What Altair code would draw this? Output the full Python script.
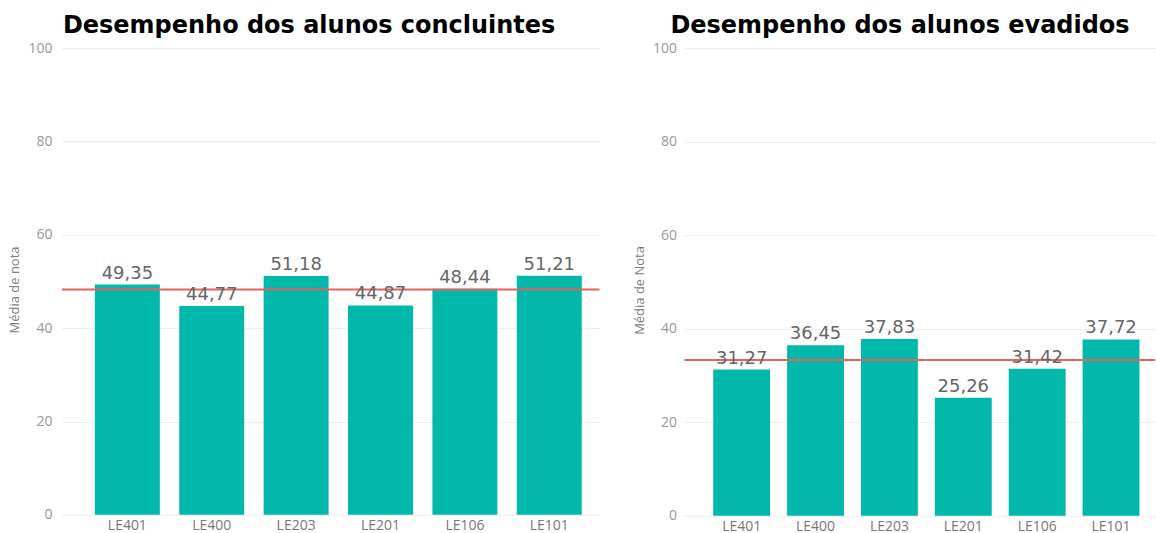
import altair as alt
import pandas as pd

# Course codes and mean grades per group
codes = ["LE401", "LE400", "LE203", "LE201", "LE106", "LE101"]
concluintes = [49.35, 44.77, 51.18, 44.87, 48.44, 51.21]
evadidos = [31.27, 36.45, 37.83, 25.26, 31.42, 37.72]
y_ticks = [0, 20, 40, 60, 80, 100]

TEAL = "#01B8AA"
RED = "#E8625C"


def panel(values, title, ytitle, width, height, label_pad, title_dx):
    df = pd.DataFrame({
        "disciplina": codes,
        "media": values,
        "rotulo": [f"{v:.2f}".replace(".", ",") for v in values],
    })
    x = alt.X(
        "disciplina:N",
        sort=codes,
        scale=alt.Scale(paddingInner=0.23, paddingOuter=0.3, align=0.65),
        axis=alt.Axis(
            title=None, labelAngle=0, ticks=False, domain=False,
            labelColor="#777777", labelFontSize=14, labelFont="Open Sans",
            labelPadding=4,
        ),
    )
    y = alt.Y(
        "media:Q",
        scale=alt.Scale(domain=[0, 100]),
        axis=alt.Axis(
            values=y_ticks, title=ytitle, grid=True, gridColor="#ECECEC",
            domain=False, ticks=False, labelColor="#999999",
            labelFontSize=14, labelFont="Open Sans", labelPadding=label_pad,
            titleFont="Open Sans", titleFontSize=13, titleFontWeight="normal",
            titleColor="#808080", titlePadding=6, titleY=height / 2 + 8,
        ),
    )
    base = alt.Chart(df)
    bars = base.mark_bar(color=TEAL).encode(x=x, y=y)
    media_geral = base.mark_rule(color=RED, strokeWidth=2).encode(
        y=alt.Y("mean(media):Q", scale=alt.Scale(domain=[0, 100]))
    )
    rotulos = base.mark_text(
        baseline="alphabetic", dy=-6, fontSize=18, font="DejaVu Sans",
        color="#666666",
    ).encode(x=x, y=y, text="rotulo:N")
    return alt.layer(bars, media_geral, rotulos).properties(
        width=width,
        height=height,
        title=alt.TitleParams(
            title, anchor="start", frame="group", font="DejaVu Sans",
            fontSize=24, fontWeight="bold", color="#000000",
            baseline="alphabetic", offset=-16, dx=title_dx,
        ),
    )


left = panel(concluintes, "Desempenho dos alunos concluintes", "Média de nota",
             538, 467, 10, 1)
right = panel(evadidos, "Desempenho dos alunos evadidos", "Média de Nota",
              471, 468, 8, -14)

chart = (
    alt.hconcat(left, right, spacing=32)
    .properties(
        padding={"left": 8, "top": 14, "right": 0, "bottom": 0},
        background="#FFFFFF",
    )
    .configure_view(stroke=None, strokeWidth=0)
)

chart.save("out.html", embed_options={"renderer": "svg", "actions": False})
